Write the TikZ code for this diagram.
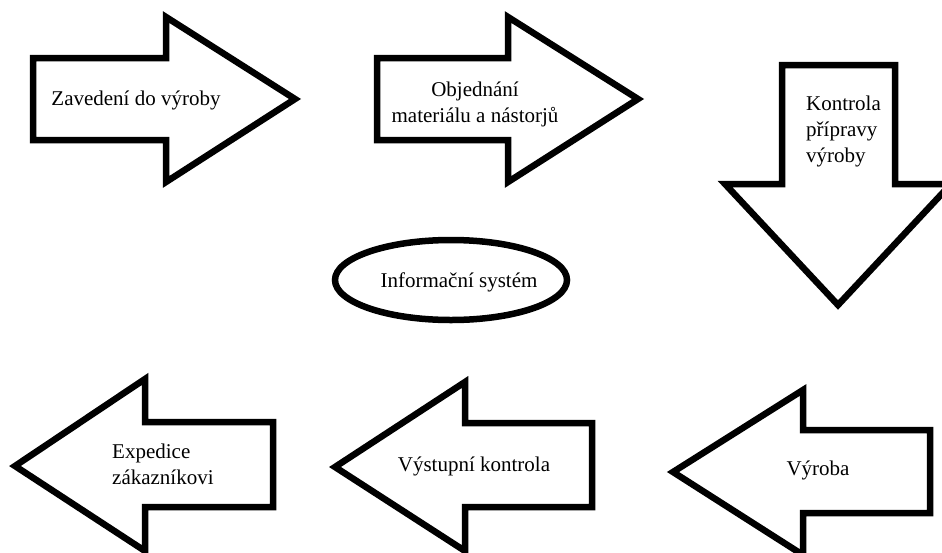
\documentclass[tikz,border=0pt]{standalone}
\usepackage{fontspec}
\setmainfont{Liberation Serif}
\begin{document}
\begin{tikzpicture}[x=1pt,y=-1pt,
  shapeline/.style={draw=black,line width=6.5pt,line join=miter,fill=white},
  lbl/.style={inner sep=0pt,font=\fontsize{21}{26}\selectfont}]
\useasboundingbox (0,0) rectangle (942,552);
\clip (0,0) rectangle (942,552);
% top row, right arrows
\draw[shapeline] (33,58) -- (166,58) -- (166,17) -- (295,99) -- (166,182) -- (166,140) -- (33,140) -- cycle;
\draw[shapeline] (377,58) -- (508,58) -- (508,17) -- (638,99) -- (508,182) -- (508,140) -- (377,140) -- cycle;
% down arrow
\draw[shapeline] (782,65) -- (895,65) -- (895,184) -- (951,184) -- (838,305) -- (725,184) -- (782,184) -- cycle;
% bottom row, left arrows
\draw[shapeline] (15,466) -- (145,379) -- (145,422) -- (273,422) -- (273,507) -- (145,507) -- (145,551) -- cycle;
\draw[shapeline] (335,467) -- (465,382) -- (465,423) -- (592,423) -- (592,507) -- (465,507) -- (465,551) -- cycle;
\draw[shapeline] (673,472) -- (803,390) -- (803,430) -- (930,430) -- (930,513) -- (803,513) -- (803,555) -- cycle;
% ellipse
\draw[draw=black,line width=6.5pt] (451,280) ellipse [x radius=116, y radius=40];
% labels
\node[lbl] (t1) at (136,100) {Zavedení do výroby};
\node[lbl,align=center] (t2) at (475,104) {Objednání\\materiálu a nástorjů};
\node[lbl,align=left,anchor=west] (t3) at (806,131) {Kontrola\\přípravy\\výroby};
\node[lbl] (is) at (459,282) {Informační systém};
\node[lbl,align=left,anchor=west] (t4) at (112,464) {Expedice\\zákazníkovi};
\node[lbl] (t5) at (474,466) {Výstupní kontrola};
\node[lbl] (t6) at (818,470) {Výroba};
\end{tikzpicture}
\end{document}
